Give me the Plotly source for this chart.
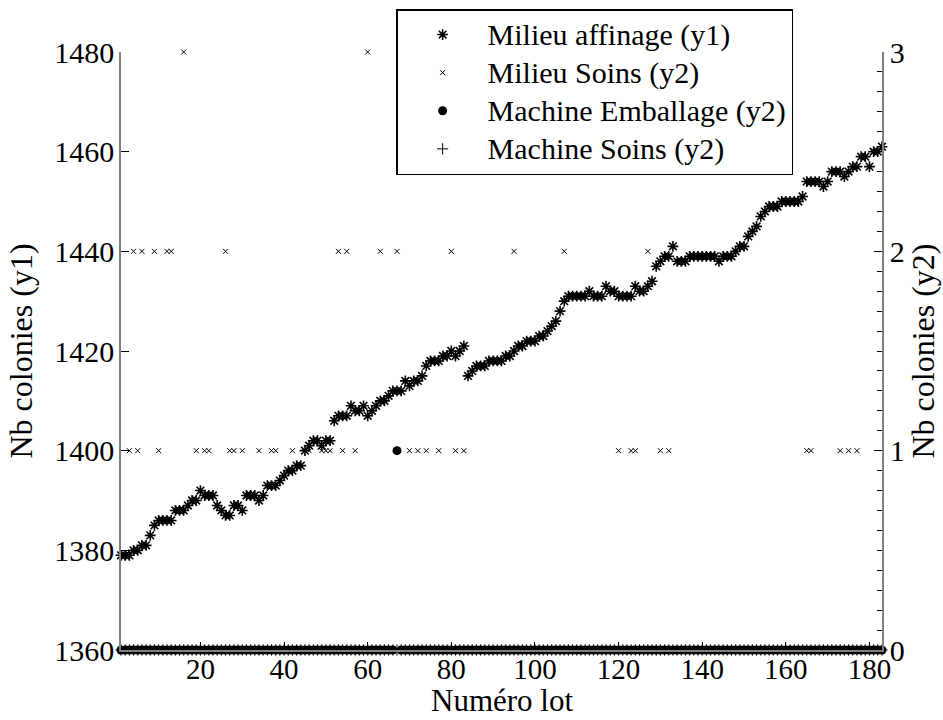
import plotly.graph_objects as go

lots = list(range(1, 184))

milieu_affinage = [
    1379, 1379, 1379, 1380, 1380, 1381, 1381, 1383, 1385, 1386,
    1386, 1386, 1386, 1388, 1388, 1388, 1389, 1390, 1390, 1392,
    1391, 1391, 1391, 1389, 1388, 1387, 1387, 1389, 1389, 1388,
    1391, 1391, 1391, 1390, 1391, 1393, 1393, 1393, 1394, 1395,
    1396, 1396, 1397, 1397, 1400, 1401, 1402, 1402, 1401, 1402,
    1402, 1406, 1407, 1407, 1407, 1409, 1408, 1408, 1409, 1407,
    1408, 1409, 1410, 1410, 1411, 1412, 1412, 1412, 1414, 1413,
    1414, 1414, 1415, 1417, 1418, 1418, 1418, 1419, 1419, 1420,
    1419, 1420, 1421, 1415, 1416, 1417, 1417, 1417, 1418, 1418,
    1418, 1418, 1419, 1419, 1420, 1421, 1421, 1422, 1422, 1422,
    1423, 1423, 1424, 1425, 1426, 1428, 1430, 1431, 1431, 1431,
    1431, 1431, 1432, 1431, 1431, 1431, 1433, 1432, 1432, 1431,
    1431, 1431, 1431, 1433, 1432, 1432, 1433, 1434, 1437, 1438,
    1439, 1439, 1441, 1438, 1438, 1438, 1439, 1439, 1439, 1439,
    1439, 1439, 1439, 1438, 1439, 1439, 1439, 1440, 1441, 1441,
    1443, 1444, 1445, 1447, 1448, 1449, 1449, 1449, 1450, 1450,
    1450, 1450, 1450, 1451, 1454, 1454, 1454, 1454, 1453, 1454,
    1456, 1456, 1456, 1455, 1456, 1457, 1457, 1459, 1459, 1457,
    1460, 1460, 1461,
]

milieu_soins = [
    0, 0, 1, 2, 1, 2, 0, 0, 2, 1,
    0, 2, 2, 0, 0, 3, 0, 0, 1, 0,
    1, 1, 0, 0, 0, 2, 1, 1, 0, 1,
    0, 0, 0, 1, 0, 0, 1, 1, 0, 0,
    0, 1, 0, 0, 0, 1, 0, 0, 1, 1,
    1, 0, 2, 1, 2, 0, 1, 0, 0, 3,
    0, 0, 2, 0, 0, 0, 2, 0, 0, 1,
    0, 1, 0, 1, 0, 0, 1, 0, 0, 2,
    1, 0, 1, 0, 0, 0, 0, 0, 0, 0,
    0, 0, 0, 0, 2, 0, 0, 0, 0, 0,
    0, 0, 0, 0, 0, 0, 2, 0, 0, 0,
    0, 0, 0, 0, 0, 0, 0, 0, 0, 1,
    0, 0, 1, 1, 0, 0, 2, 0, 0, 1,
    0, 1, 0, 0, 0, 0, 0, 0, 0, 0,
    0, 0, 0, 0, 0, 0, 0, 0, 0, 0,
    0, 0, 0, 0, 0, 0, 0, 0, 0, 0,
    0, 0, 0, 0, 1, 1, 0, 0, 0, 0,
    0, 0, 1, 0, 1, 0, 1, 0, 0, 0,
    0, 0, 0,
]

machine_emballage = [
    0, 0, 0, 0, 0, 0, 0, 0, 0, 0,
    0, 0, 0, 0, 0, 0, 0, 0, 0, 0,
    0, 0, 0, 0, 0, 0, 0, 0, 0, 0,
    0, 0, 0, 0, 0, 0, 0, 0, 0, 0,
    0, 0, 0, 0, 0, 0, 0, 0, 0, 0,
    0, 0, 0, 0, 0, 0, 0, 0, 0, 0,
    0, 0, 0, 0, 0, 0, 1, 0, 0, 0,
    0, 0, 0, 0, 0, 0, 0, 0, 0, 0,
    0, 0, 0, 0, 0, 0, 0, 0, 0, 0,
    0, 0, 0, 0, 0, 0, 0, 0, 0, 0,
    0, 0, 0, 0, 0, 0, 0, 0, 0, 0,
    0, 0, 0, 0, 0, 0, 0, 0, 0, 0,
    0, 0, 0, 0, 0, 0, 0, 0, 0, 0,
    0, 0, 0, 0, 0, 0, 0, 0, 0, 0,
    0, 0, 0, 0, 0, 0, 0, 0, 0, 0,
    0, 0, 0, 0, 0, 0, 0, 0, 0, 0,
    0, 0, 0, 0, 0, 0, 0, 0, 0, 0,
    0, 0, 0, 0, 0, 0, 0, 0, 0, 0,
    0, 0, 0,
]

machine_soins = [
    0, 0, 0, 0, 0, 0, 0, 0, 0, 0,
    0, 0, 0, 0, 0, 0, 0, 0, 0, 0,
    0, 0, 0, 0, 0, 0, 0, 0, 0, 0,
    0, 0, 0, 0, 0, 0, 0, 0, 0, 0,
    0, 0, 0, 0, 0, 0, 0, 0, 0, 0,
    0, 0, 0, 0, 0, 0, 0, 0, 0, 0,
    0, 0, 0, 0, 0, 0, 0, 0, 0, 0,
    0, 0, 0, 0, 0, 0, 0, 0, 0, 0,
    0, 0, 0, 0, 0, 0, 0, 0, 0, 0,
    0, 0, 0, 0, 0, 0, 0, 0, 0, 0,
    0, 0, 0, 0, 0, 0, 0, 0, 0, 0,
    0, 0, 0, 0, 0, 0, 0, 0, 0, 0,
    0, 0, 0, 0, 0, 0, 0, 0, 0, 0,
    0, 0, 0, 0, 0, 0, 0, 0, 0, 0,
    0, 0, 0, 0, 0, 0, 0, 0, 0, 0,
    0, 0, 0, 0, 0, 0, 0, 0, 0, 0,
    0, 0, 0, 0, 0, 0, 0, 0, 0, 0,
    0, 0, 0, 0, 0, 0, 0, 0, 0, 0,
    0, 0, 0,
]

x_ticks = [20, 40, 60, 80, 100, 120, 140, 160, 180]
y1_ticks = [1360, 1380, 1400, 1420, 1440, 1460, 1480]
y2_ticks = [0, 1, 2, 3]

x_title = "Numéro lot"
y1_title = "Nb colonies (y1)"
y2_title = "Nb colonies (y2)"

FONT = "'Liberation Serif', 'Times New Roman', 'DejaVu Serif', serif"
AXIS_GRAY = "#7f7f7f"
TICK_SIZE = 30
X_TICK_SIZE = 29
TITLE_SIZE = 32
X_TITLE_SIZE = 31


def legend_label(text):
    return '<span style="font-size:30px">' + text + "</span>"


fig = go.Figure()
fig.add_trace(go.Scatter(
    x=lots, y=milieu_affinage, mode="markers",
    name=legend_label("Milieu affinage (y1)"),
    marker=dict(symbol="asterisk-open", size=9, color="black",
                line=dict(width=1.6, color="black")),
    cliponaxis=False, yaxis="y"))
fig.add_trace(go.Scatter(
    x=lots, y=milieu_soins, mode="markers",
    name=legend_label("Milieu Soins (y2)"),
    marker=dict(symbol="x-thin-open", size=5, color="black",
                line=dict(width=1, color="black")),
    cliponaxis=False, yaxis="y2"))
fig.add_trace(go.Scatter(
    x=lots, y=machine_emballage, mode="markers",
    name=legend_label("Machine Emballage (y2)"),
    marker=dict(symbol="circle", size=9, color="black", line=dict(width=0)),
    cliponaxis=False, yaxis="y2"))
fig.add_trace(go.Scatter(
    x=lots, y=machine_soins, mode="markers",
    name=legend_label("Machine Soins (y2)"),
    marker=dict(symbol="cross-thin-open", size=8, color="black",
                line=dict(width=1, color="black")),
    cliponaxis=False, yaxis="y2"))

fig.update_layout(
    width=943, height=720,
    margin=dict(l=121, r=61, t=52, b=70, autoexpand=False),
    paper_bgcolor="white", plot_bgcolor="white",
    font=dict(family=FONT, size=TICK_SIZE, color="black"),
    xaxis=dict(
        range=[1, 183], tickvals=x_ticks, ticks="inside", ticklen=8,
        tickcolor="black", showline=True, linecolor=AXIS_GRAY, linewidth=1.5,
        showgrid=False, zeroline=False, ticklabelstandoff=-8,
        tickfont=dict(family=FONT, size=X_TICK_SIZE),
    ),
    yaxis=dict(
        range=[1360, 1480], tickvals=y1_ticks, ticks="inside", ticklen=8,
        tickcolor="black", showline=True, linecolor=AXIS_GRAY, linewidth=1.5,
        showgrid=False, zeroline=False, ticklabelstandoff=-1,
        tickfont=dict(family=FONT, size=TICK_SIZE),
        title=dict(text=y1_title, standoff=12,
                   font=dict(family=FONT, size=TITLE_SIZE)),
    ),
    yaxis2=dict(
        range=[0, 3], tickvals=y2_ticks, overlaying="y", side="right",
        ticks="inside", ticklen=8, tickcolor="black",
        minor=dict(dtick=0.1, ticks="inside", ticklen=5, tickcolor="black"),
        showline=True, linecolor=AXIS_GRAY, linewidth=1.5,
        showgrid=False, zeroline=False, ticklabelstandoff=0,
        tickfont=dict(family=FONT, size=TICK_SIZE),
        title=dict(text=y2_title, standoff=5,
                   font=dict(family=FONT, size=TITLE_SIZE)),
    ),
    legend=dict(
        x=0.3615, y=1.0719, xanchor="left", yanchor="top",
        bgcolor="white", bordercolor="black", borderwidth=1.5,
        font=dict(family=FONT, size=27, color="black"),
        itemwidth=80, tracegroupgap=0,
    ),
    annotations=[dict(
        text=x_title, xref="paper", yref="paper", x=0.5, y=-0.117,
        xanchor="center", yanchor="bottom", showarrow=False,
        font=dict(family=FONT, size=X_TITLE_SIZE, color="black"),
    )],
)

fig.write_html(
    "out.html",
    config={"displayModeBar": False},
    post_script="document.body.style.margin='0';document.body.style.padding='0';",
)
